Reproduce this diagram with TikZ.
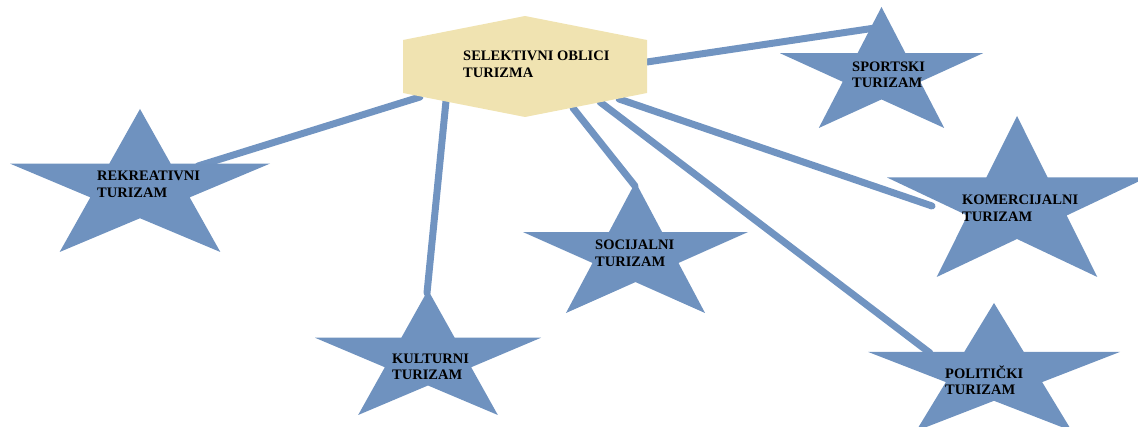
\documentclass[tikz,border=0pt]{standalone}
\usepackage{fontspec}
\setmainfont{Liberation Serif}
\definecolor{starblue}{RGB}{111,146,191}
\definecolor{lineblue}{RGB}{113,148,193}
\definecolor{hexfill}{RGB}{240,227,177}
\tikzset{
  lbl/.style={font=\bfseries\fontsize{14.5}{16.5}\selectfont, align=left, anchor=base west, inner sep=0pt, text=black},
  link/.style={draw=lineblue, line width=7pt, line cap=round},
  starshape/.style={fill=starblue}
}
\newcommand\drawstar[4]{%
  \pgfmathsetmacro\sx{(#1+#2)/2}%
  \pgfmathsetmacro\rx{(#2-#1)/(2*sin(72))}%
  \pgfmathsetmacro\ry{(#4-#3)/(1+cos(36))}%
  \pgfmathsetmacro\sy{#3+\ry}%
  \fill[starshape] ({\sx},{\sy-\ry})
    \foreach \a/\f in {126/0.382,162/1,198/0.382,234/1,270/0.382,306/1,342/0.382,18/1,54/0.382}{
      -- ({\sx+\f*\rx*cos(\a)},{\sy-\f*\ry*sin(\a)})
    } -- cycle;%
}
\begin{document}
\begin{tikzpicture}[x=1pt,y=-1pt]
\useasboundingbox (0,0) rectangle (1138,427);
\clip (0,0) rectangle (1138,427);

% connector end points
\coordinate (h-spo) at (647,62);
\coordinate (e-spo) at (875,28);
\coordinate (h-rek) at (420,97);
\coordinate (e-rek) at (198,166);
\coordinate (h-kul) at (446,101);
\coordinate (e-kul) at (427,293);
\coordinate (h-soc) at (573,108);
\coordinate (e-soc) at (635,186);
\coordinate (h-pol) at (600,102);
\coordinate (e-pol) at (930,353);
\coordinate (h-kom) at (619,99);
\coordinate (e-kom) at (932,206);

\draw[link] (h-spo) -- (e-spo);
\draw[link] (h-rek) -- (e-rek);
\draw[link] (h-kul) -- (e-kul);
\draw[link] (h-soc) -- (e-soc);
\draw[link] (h-pol) -- (e-pol);
\draw[link] (h-kom) -- (e-kom);

% central hexagon
\fill[hexfill] (525,16) -- (647,40) -- (647,93) -- (525,117) -- (403,93) -- (403,40) -- cycle;

% stars
\drawstar{10}{270}{109}{252}
\drawstar{780}{983}{7}{128}
\drawstar{887}{1147}{116}{277}
\drawstar{868}{1120}{303}{431}
\drawstar{315}{541}{290}{415}
\drawstar{523}{748}{182}{313}

% labels (anchored at the baseline of the last line)
\node[lbl, font=\bfseries\fontsize{14.5}{17.5}\selectfont] (hex) at (463,78) {SELEKTIVNI OBLICI\\TURIZMA};
\node[lbl] (rek) at (97,197.5) {REKREATIVNI\\TURIZAM};
\node[lbl] (spo) at (852,88) {SPORTSKI\\TURIZAM};
\node[lbl] (kom) at (962,221.5) {KOMERCIJALNI\\TURIZAM};
\node[lbl] (pol) at (945,395) {POLITIČKI\\TURIZAM};
\node[lbl] (kul) at (392,380) {KULTURNI\\TURIZAM};
\node[lbl] (soc) at (595,266.5) {SOCIJALNI\\TURIZAM};
\end{tikzpicture}
\end{document}
